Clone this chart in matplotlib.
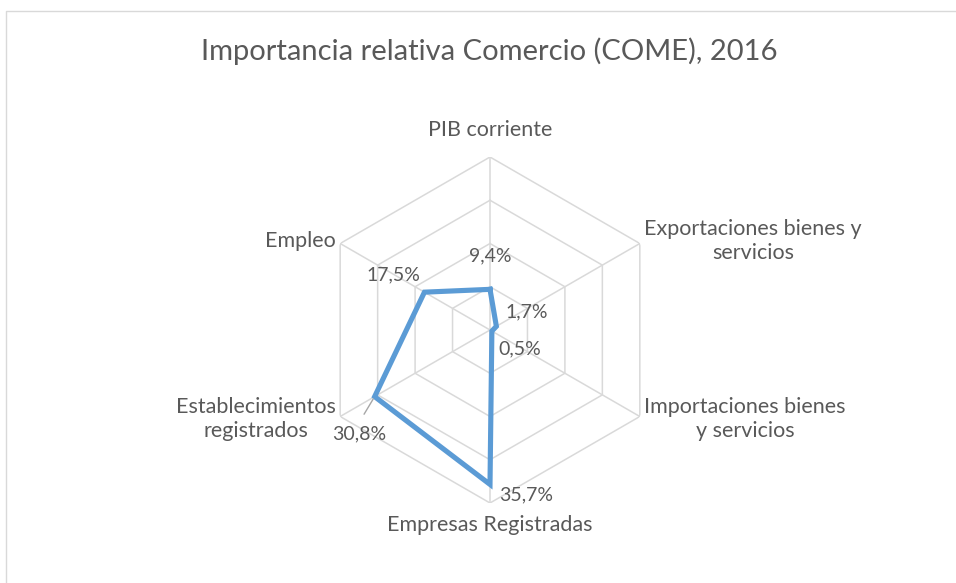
import numpy as np
import matplotlib
matplotlib.use("Agg")
import matplotlib.pyplot as plt
from matplotlib.lines import Line2D

plt.rcParams["font.family"] = ["Lato", "DejaVu Sans"]

categories = ["PIB corriente", "Exportaciones bienes y\nservicios", "Importaciones bienes\ny servicios",
              "Empresas Registradas", "Establecimientos\nregistrados", "Empleo"]
values = [0.094, 0.017, 0.005, 0.357, 0.308, 0.175]
value_labels = ["9,4%", "1,7%", "0,5%", "35,7%", "30,8%", "17,5%"]
rings = [0.1, 0.2, 0.3, 0.4]

TEXT = "#595959"
GRID = "#D9D9D9"
LINE = "#5B9BD5"

fig = plt.figure(figsize=(9.56, 5.83), dpi=100)
# chart-area border (only left and top edges fall inside the picture)
fig.add_artist(Line2D([5.5 / 956, 5.5 / 956, 1.0], [0.0, 1 - 10.5 / 583, 1 - 10.5 / 583],
                      transform=fig.transFigure, color=GRID, lw=1))
fig.text(0.512, 1 - 51 / 583, "Importancia relativa Comercio (COME), 2016", ha="center", va="center",
         fontsize=21, color=TEXT)

cx, cy, R = 490 / 956, 1 - 330 / 583, 173
ax = fig.add_axes([cx - R / 956, cy - R / 583, 2 * R / 956, 2 * R / 583], projection="polar")
ax.set_theta_offset(np.pi / 2)
ax.set_theta_direction(-1)
ax.set_ylim(0, 0.4)
ax.grid(False)
ax.spines["polar"].set_visible(False)
ax.set_xticks([])
ax.set_yticks([])
ax.patch.set_alpha(0)

n = len(categories)
angles = np.linspace(0, 2 * np.pi, n, endpoint=False)
closed = np.append(angles, angles[0])

for r in rings:
    ax.plot(closed, [r] * (n + 1), color=GRID, lw=1.1, zorder=1)
for a in angles:
    ax.plot([a, a], [0, 0.4], color=GRID, lw=1.1, zorder=1)

ax.plot(closed, values + values[:1], color=LINE, lw=3.7, zorder=3, solid_joinstyle="miter", clip_on=False)

# category labels
label_pos = [(0.44, "center", "bottom"), (0.412, "left", "center"), (0.412, "left", "center"),
             (0.428, "center", "top"), (0.412, "right", "center"), (0.412, "right", "center")]
for a, cat, (r, ha, va) in zip(angles, categories, label_pos):
    ax.text(a, r, cat, ha=ha, va=va, fontsize=15.5, color=TEXT, multialignment="center",
            linespacing=1.3, clip_on=False)

# data labels
offsets = [(0, 33), (30, 14), (28, -18), (36, -10), (-15, -37), (-31, 17)]
for a, v, lab, off in zip(angles, values, value_labels, offsets):
    ax.annotate(lab, xy=(a, v), xytext=off, textcoords="offset pixels", ha="center", va="center",
                fontsize=14, color=TEXT, annotation_clip=False)
# leader line for 30,8%
ax.annotate("", xy=(angles[4], values[4]), xytext=(-12, -20), textcoords="offset pixels",
            arrowprops=dict(arrowstyle="-", color="#A6A6A6", lw=1), annotation_clip=False)

fig.savefig("out.png", dpi=100)
